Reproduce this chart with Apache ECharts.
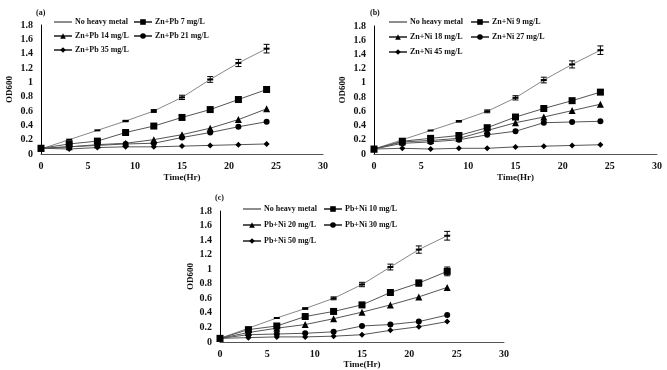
<!DOCTYPE html>
<html>
<head>
<meta charset="utf-8">
<script src="https://cdn.jsdelivr.net/npm/echarts@6/dist/echarts.min.js"></script>
<style>
  html, body { margin: 0; padding: 0; background: #fff; }
  #chart { width: 667px; height: 370px; }
</style>
</head>
<body>
<div id="chart"></div>
<script>
  // sampling times (hours)
  var hours = [0, 3, 6, 9, 12, 15, 18, 21, 24];

  // panel (a) Zn + Pb
  var aNoMetal = [0.07, 0.2, 0.33, 0.46, 0.6, 0.79, 1.04, 1.27, 1.47];
  var aNoMetalErr = [0, 0, 0, 0.01, 0.02, 0.03, 0.04, 0.05, 0.06];
  var aZnPb7 = [0.08, 0.14, 0.18, 0.3, 0.39, 0.51, 0.62, 0.76, 0.9];
  var aZnPb14 = [0.08, 0.1, 0.13, 0.15, 0.2, 0.27, 0.36, 0.48, 0.63];
  var aZnPb21 = [0.08, 0.1, 0.12, 0.14, 0.15, 0.23, 0.3, 0.38, 0.45];
  var aZnPb35 = [0.08, 0.07, 0.09, 0.1, 0.1, 0.11, 0.12, 0.13, 0.14];

  // panel (b) Zn + Ni
  var bNoMetal = [0.07, 0.2, 0.33, 0.46, 0.6, 0.79, 1.04, 1.26, 1.46];
  var bNoMetalErr = [0, 0, 0, 0.01, 0.02, 0.03, 0.04, 0.05, 0.06];
  var bZnNi9 = [0.07, 0.18, 0.22, 0.26, 0.37, 0.52, 0.64, 0.75, 0.87];
  var bZnNi18 = [0.07, 0.17, 0.19, 0.22, 0.33, 0.44, 0.52, 0.61, 0.7];
  var bZnNi27 = [0.07, 0.15, 0.17, 0.2, 0.27, 0.32, 0.44, 0.45, 0.46];
  var bZnNi45 = [0.07, 0.08, 0.07, 0.08, 0.08, 0.1, 0.11, 0.12, 0.13];

  // panel (c) Pb + Ni
  var cNoMetal = [0.05, 0.19, 0.33, 0.46, 0.6, 0.79, 1.03, 1.27, 1.46];
  var cNoMetalErr = [0, 0, 0, 0.01, 0.02, 0.03, 0.04, 0.05, 0.06];
  var cPbNi10 = [0.05, 0.17, 0.22, 0.35, 0.42, 0.51, 0.68, 0.81, 0.97];
  var cPbNi10Err = [0, 0, 0, 0, 0, 0, 0.02, 0.04, 0.06];
  var cPbNi20 = [0.05, 0.13, 0.19, 0.24, 0.32, 0.41, 0.51, 0.62, 0.75];
  var cPbNi30 = [0.05, 0.1, 0.11, 0.12, 0.14, 0.22, 0.24, 0.28, 0.37];
  var cPbNi50 = [0.05, 0.06, 0.07, 0.07, 0.08, 0.1, 0.16, 0.21, 0.28];

  var font = 'Liberation Serif';
  var legendText = { fontFamily: font, fontWeight: 'bold', fontSize: 8, color: '#111', padding: [0, 0, 0, -2] };
  // plain line icon for the control series (marker is just a dash)
  var dashIcon = 'path://M0,0L40,0L40,2L0,2Z';

  function pairs(ys) {
    return hours.map(function (h, i) { return [h, ys[i]]; });
  }

  function errData(ys, err) {
    var out = [];
    for (var i = 0; i < hours.length; i++) {
      if (err[i] > 0) out.push([hours[i], ys[i] - err[i], ys[i] + err[i]]);
    }
    return out;
  }

  function lineSeries(name, ys, idx, symbol, size, lineColor) {
    return {
      name: name,
      type: 'line',
      xAxisIndex: idx,
      yAxisIndex: idx,
      data: pairs(ys),
      symbol: symbol,
      symbolSize: size,
      showAllSymbol: true,
      lineStyle: { color: lineColor || '#555', width: 1 },
      itemStyle: { color: '#000' },
      z: 3
    };
  }

  function errSeries(ys, err, idx) {
    return {
      type: 'custom',
      xAxisIndex: idx,
      yAxisIndex: idx,
      data: errData(ys, err),
      z: 4,
      renderItem: function (params, api) {
        var lo = api.coord([api.value(0), api.value(1)]);
        var hi = api.coord([api.value(0), api.value(2)]);
        var st = { stroke: '#000', lineWidth: 1 };
        return {
          type: 'group',
          children: [
            { type: 'line', shape: { x1: lo[0], y1: lo[1], x2: hi[0], y2: hi[1] }, style: st },
            { type: 'line', shape: { x1: lo[0] - 3, y1: lo[1], x2: lo[0] + 3, y2: lo[1] }, style: st },
            { type: 'line', shape: { x1: hi[0] - 3, y1: hi[1], x2: hi[0] + 3, y2: hi[1] }, style: st }
          ]
        };
      }
    };
  }

  function panelSeries(idx, names, sets, errs) {
    var out = [
      lineSeries(names[0], sets[0], idx, 'rect', [6, 2], '#888'),
      lineSeries(names[1], sets[1], idx, 'rect', 7),
      lineSeries(names[2], sets[2], idx, 'triangle', 7),
      lineSeries(names[3], sets[3], idx, 'circle', 6),
      lineSeries(names[4], sets[4], idx, 'diamond', 6)
    ];
    errs.forEach(function (e) { out.push(errSeries(e[0], e[1], idx)); });
    return out;
  }

  function xAx(idx, gap) {
    return {
      gridIndex: idx, type: 'value', min: 0, max: 30, interval: 5,
      name: 'Time(Hr)', nameLocation: 'middle', nameGap: gap,
      nameTextStyle: { fontFamily: font, fontWeight: 'bold', fontSize: 9, color: '#111' },
      axisLine: { lineStyle: { color: '#555', width: 1 } },
      axisTick: { show: false },
      splitLine: { show: false },
      axisLabel: { fontFamily: font, fontWeight: 'bold', fontSize: 10, color: '#111', margin: 7 }
    };
  }

  function yAx(idx, gap) {
    return {
      gridIndex: idx, type: 'value', min: 0, max: 1.8, interval: 0.2,
      name: 'OD600', nameLocation: 'middle', nameGap: gap, nameRotate: 90,
      nameTextStyle: { fontFamily: font, fontWeight: 'bold', fontSize: 9, color: '#111' },
      axisLine: { show: true, lineStyle: { color: '#000', width: 1 } },
      axisTick: { show: false },
      splitLine: { show: false },
      axisLabel: {
        fontFamily: font, fontWeight: 'bold', fontSize: 10, color: '#111', margin: 8,
        formatter: function (v) { return String(Math.round(v * 10) / 10); }
      }
    };
  }

  function legendCol(left, top, gap, items) {
    return {
      orient: 'vertical', left: left, top: top, itemGap: gap, padding: 0,
      itemWidth: 18, itemHeight: 7, textStyle: legendText, data: items,
      selectedMode: false
    };
  }

  var namesA = ['No heavy metal', 'Zn+Pb 7 mg/L', 'Zn+Pb 14 mg/L', 'Zn+Pb 21 mg/L', 'Zn+Pb 35 mg/L'];
  var namesB = ['No heavy metal', 'Zn+Ni 9 mg/L', 'Zn+Ni 18 mg/L', 'Zn+Ni 27 mg/L', 'Zn+Ni 45 mg/L'];
  var namesC = ['No heavy metal', 'Pb+Ni 10 mg/L', 'Pb+Ni 20 mg/L', 'Pb+Ni 30 mg/L', 'Pb+Ni 50 mg/L'];
  var control = { name: 'No heavy metal', icon: dashIcon };

  var chart = echarts.init(document.getElementById('chart'));
  var option = {
    backgroundColor: '#fff',
    animation: false,
    title: [
      { text: '(a)', left: 31, top: 4, textStyle: { fontFamily: font, fontWeight: 'bold', fontSize: 8, color: '#111' } },
      { text: '(b)', left: 365, top: 4, textStyle: { fontFamily: font, fontWeight: 'bold', fontSize: 8, color: '#111' } },
      { text: '(c)', left: 210, top: 189, textStyle: { fontFamily: font, fontWeight: 'bold', fontSize: 8, color: '#111' } }
    ],
    grid: [
      { left: 41, top: 25, width: 282, height: 129 },
      { left: 374, top: 26, width: 283, height: 128 },
      { left: 220, top: 211, width: 284, height: 132 }
    ],
    legend: [
      legendCol(53, 18, 6, [control, namesA[2], namesA[4]]),
      legendCol(133, 18, 6, [namesA[1], namesA[3]]),
      legendCol(388, 18, 7, [control, namesB[2], namesB[4]]),
      legendCol(470, 18, 7, [namesB[1], namesB[3]]),
      legendCol(242, 205, 8, [control, namesC[2], namesC[4]]),
      legendCol(323, 205, 8, [namesC[1], namesC[3]])
    ],
    xAxis: [xAx(0, 19), xAx(1, 19), xAx(2, 18)],
    yAxis: [yAx(0, 27), yAx(1, 27), yAx(2, 24)],
    series: []
      .concat(panelSeries(0, namesA, [aNoMetal, aZnPb7, aZnPb14, aZnPb21, aZnPb35], [[aNoMetal, aNoMetalErr]]))
      .concat(panelSeries(1, namesB, [bNoMetal, bZnNi9, bZnNi18, bZnNi27, bZnNi45], [[bNoMetal, bNoMetalErr]]))
      .concat(panelSeries(2, namesC, [cNoMetal, cPbNi10, cPbNi20, cPbNi30, cPbNi50], [[cNoMetal, cNoMetalErr], [cPbNi10, cPbNi10Err]]))
  };
  chart.setOption(option);
</script>
</body>
</html>
